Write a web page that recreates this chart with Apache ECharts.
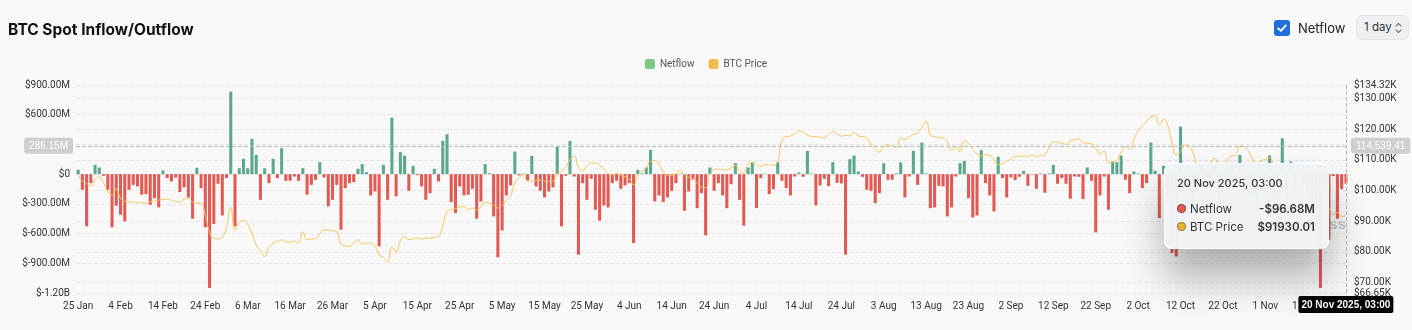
<!DOCTYPE html>
<html><head><meta charset="utf-8">
<script src="https://cdn.jsdelivr.net/npm/echarts@6/dist/echarts.min.js"></script>
<style>
html,body{margin:0;padding:0;background:#f9f9f9;}
#wrap{position:relative;width:1412px;height:330px;overflow:hidden;background:#f9f9f9;font-family:Inter,"Noto Sans",sans-serif;}
#chart{position:absolute;left:0;top:0;width:1412px;height:330px;}
#cb{position:absolute;left:1274px;top:20px;width:16px;height:16px;border-radius:3px;background:#1f6fd6;}
#cb svg{position:absolute;left:2px;top:2px;}
#cblabel{position:absolute;left:1298px;top:18px;font-size:13px;color:#222;line-height:20px;}
#sel{position:absolute;left:1356px;top:15px;width:53px;height:25px;box-sizing:border-box;border:1px solid #e3e5e8;border-radius:6px;background:#eef0f3;font-size:11.5px;color:#333;line-height:23px;padding-left:7px;}
#sel svg{position:absolute;right:6px;top:6px;}
</style></head><body>
<div id="wrap">
<div id="chart"></div>
<div id="cb"><svg width="12" height="12" viewBox="0 0 12 12"><path d="M2.2 6.3 L4.9 8.9 L9.8 3.4" stroke="#fff" stroke-width="1.8" fill="none" stroke-linecap="round" stroke-linejoin="round"/></svg></div>
<div id="cblabel">Netflow</div>
<div id="sel">1 day<svg width="7" height="12" viewBox="0 0 7 12"><path d="M1 4 L3.5 1.5 L6 4 M1 8 L3.5 10.5 L6 8" stroke="#777" stroke-width="1.1" fill="none" stroke-linecap="round" stroke-linejoin="round"/></svg></div>
</div>
<script>
// ---- data ----
const startDate = '2025-01-25';
const pointerTime = '03:00';
const netflowM = [
44,-158,-527,-90,94,67,-17,-158,-537,-319,
-410,-477,-158,-108,-124,-208,-202,-309,-242,-336,
37,-40,-74,-34,-181,-134,-235,-450,64,-141,
-537,-1149,-504,-97,-417,-40,833,-527,60,155,
60,356,195,-259,60,-91,155,-40,262,-67,
-67,-24,-67,60,-208,-108,-57,121,-34,-326,
-259,-108,-561,-141,-91,-81,54,101,20,-215,
-175,-729,94,-259,571,-225,222,188,-168,84,
-10,-124,-259,-192,54,-74,336,403,-282,-393,
-124,-215,-208,-148,-450,-276,101,10,-427,-840,
-568,-215,-114,228,-13,5,-67,185,-124,-168,
-235,-175,-134,276,-527,-17,336,-24,-813,-91,
-259,-47,-360,-470,-316,-336,-91,-67,-148,-114,
-91,-696,44,8,67,245,-276,-215,-282,-235,
-168,-91,5,-370,-175,-57,-343,-192,-618,67,
-168,-91,-215,-343,-101,111,-259,-521,67,121,
-343,-40,5,-202,-151,121,-67,-141,-215,-24,
17,-27,235,7,-316,-114,-47,-121,121,-87,
-94,-813,151,188,27,-27,-158,-168,-292,-192,
111,-57,-57,10,118,-235,-24,235,-108,319,
7,-343,-336,-118,-124,-427,-336,-24,111,134,
-242,-437,-417,242,-91,-215,-376,175,-40,-235,
-34,-60,-27,34,-118,-5,-148,7,-188,7,
94,-97,-40,-97,-249,-24,-27,-252,67,-67,
-588,-215,-24,-360,128,121,188,-57,-192,27,
7,-141,-91,319,34,-444,84,-208,-796,-830,
480,-150,60,-300,-200,90,-120,-60,80,-250,
-180,40,115,-90,194,-140,-60,-220,-310,70,
-50,188,-250,-420,362,-380,127,-150,60,-90,
-200,-280,-350,-1149,-150,-660,-20,-450,-150,-96.68
];
const priceK = [
105.1,103.0,102.3,101.6,103.5,104.5,102.5,99.5,98.5,100.5,
97.5,96.4,96.3,96.2,96.1,96.0,95.9,96.3,96.6,96.9,
97.1,97.2,96.8,96.4,96.2,97.2,97.5,96.2,96.0,95.8,
92.0,86.5,84.4,84.3,84.8,88.0,94.5,87.0,89.5,90.3,
89.0,86.0,82.3,80.5,78.5,81.5,82.8,83.5,83.9,83.4,
83.2,83.6,82.9,86.5,84.0,84.2,84.4,86.0,87.2,87.0,
86.9,86.6,82.5,82.0,81.8,82.9,84.0,82.5,82.8,82.9,
82.0,79.0,78.2,76.8,81.5,80.0,83.5,85.0,84.0,84.3,
84.6,84.2,84.5,84.5,84.7,85.0,88.5,93.0,93.8,94.2,
94.6,94.8,93.8,94.3,93.7,94.5,96.2,95.8,95.2,94.3,
95.2,96.8,98.3,102.5,104.2,105.2,103.2,103.1,103.3,103.4,
103.0,102.9,103.1,105.6,106.2,107.5,110.0,111.2,107.5,106.5,
108.0,109.0,109.0,108.3,106.8,105.5,105.1,105.5,105.0,104.5,
103.8,101.8,105.0,106.3,107.2,109.5,109.7,108.5,106.0,105.0,
104.9,105.4,106.7,104.8,104.3,103.8,102.5,101.2,100.9,105.2,
106.8,107.0,106.7,106.8,107.3,108.2,106.2,105.7,108.6,109.0,
108.5,107.8,108.4,108.3,108.1,109.5,116.5,117.5,117.7,118.3,
119.3,119.0,118.0,117.6,117.5,117.4,117.1,118.3,119.2,118.4,
117.7,117.9,117.8,118.8,117.8,117.5,117.2,115.0,113.5,112.5,
114.3,114.8,114.5,114.0,117.0,116.6,117.3,118.3,118.7,120.5,
122.6,118.0,117.5,117.3,117.1,116.0,113.0,114.3,112.5,116.2,
115.2,113.3,112.0,111.3,111.6,111.4,110.0,108.4,108.8,109.5,
110.2,111.0,111.1,111.2,111.0,111.5,111.0,111.3,111.6,114.0,
115.9,115.6,115.4,115.0,116.1,116.5,116.8,115.6,115.4,115.2,
113.7,112.0,112.8,109.0,109.3,109.8,112.5,114.3,113.5,116.5,
119.5,121.0,122.4,124.0,124.3,121.3,123.2,121.0,115.5,111.6,
112.5,114.8,114.5,112.0,108.2,106.5,107.2,108.6,110.5,108.4,
107.6,110.0,111.2,111.6,114.5,114.1,112.9,110.0,108.3,109.6,
110.1,110.6,106.5,101.5,103.9,101.3,103.4,102.3,104.7,106.0,
103.0,101.6,99.7,94.5,95.6,94.2,92.2,92.9,91.5,91.93001
];
const leftTicks = {min: -1200, max: 900, interval: 300};
const rightTickValues = [66650, 70000, 80000, 90000, 100000, 110000, 120000, 130000, 134320];
const pointerValueM = 286.15;

// ---- build ----
const MONTHS = ['Jan','Feb','Mar','Apr','May','Jun','Jul','Aug','Sep','Oct','Nov','Dec'];
const dates = [];
{ const d0 = new Date(startDate + 'T00:00:00Z');
  for (let i = 0; i < netflowM.length; i++) { const d = new Date(d0.getTime() + i*86400000); dates.push(d.toISOString().slice(0,10)); } }
function shortDate(s){ const [y,m,d] = s.split('-'); return (+d) + ' ' + MONTHS[+m-1]; }
function longDate(s){ const [y,m,d] = s.split('-'); return (+d) + ' ' + MONTHS[+m-1] + ' ' + y + ', ' + pointerTime; }
const priceUSD = priceK.map(v => +(v*1000).toFixed(2));

const GREEN = '#5ba88c', RED = '#e25a53', LINE = '#f7c560';
const axisFont = 'Roboto, "DejaVu Sans", sans-serif';

const chart = echarts.init(document.getElementById('chart'), null, {renderer:'canvas'});
chart.setOption({
  animation: false,
  backgroundColor: '#f9f9f9',
  title: {text: 'BTC Spot Inflow/Outflow', left: 3, top: 17, textStyle: {fontSize: 15.5, fontWeight: 'bold', color: '#111', fontFamily: 'Inter, "Noto Sans", sans-serif'}},
  legend: {top: 54, left: 'center', itemWidth: 10, itemHeight: 10, itemGap: 14, icon: 'roundRect',
    textStyle: {fontSize: 10, color: '#555', fontFamily: axisFont},
    data: [{name: 'Netflow', itemStyle: {color: '#7bc88a'}}, {name: 'BTC Price', itemStyle: {color: '#f0bd55'}}]},
  grid: {left: 76, right: 64, top: 85, bottom: 37, containLabel: false},
  tooltip: {
    trigger: 'axis', alwaysShowContent: true, transitionDuration: 0,
    backgroundColor: 'rgba(240,243,246,0.97)', borderColor: '#ffffff', borderWidth: 1, padding: [12, 13, 12, 12],
    extraCssText: 'border-radius:8px;box-shadow:0 28px 40px rgba(0,0,0,0.3);',
    position: function(pt, params, dom, rect, size){ return [pt[0] - size.contentSize[0] - 17, pt[1] + 17]; },
    axisPointer: {type: 'cross', lineStyle: {color: '#bbb', type: 'dashed', width: 1}, crossStyle: {color: '#bbb', type: 'dashed', width: 1}},
    formatter: function(params){
      const idx = params[0].dataIndex;
      const nf = netflowM[idx], pr = priceUSD[idx];
      const dot = c => '<span style="display:inline-block;width:7px;height:7px;border-radius:50%;background:'+c+';border:1px solid rgba(0,0,0,0.35);margin-right:4px;vertical-align:0px"></span>';
      const nfTxt = (nf < 0 ? '-$' : '$') + Math.abs(nf).toFixed(2) + 'M';
      return '<div style="font-family:Inter,sans-serif;color:#333;font-size:11.5px;">' +
        '<div style="margin-bottom:9px;font-weight:500;font-size:11px;line-height:15px">' + longDate(dates[idx]) + '</div>' +
        '<div style="display:flex;justify-content:space-between;line-height:18px;"><span>' + dot(RED) + 'Netflow</span><b style="margin-left:14px;font-weight:600">' + nfTxt + '</b></div>' +
        '<div style="display:flex;justify-content:space-between;line-height:18px;"><span>' + dot('#e8b33c') + 'BTC Price</span><b style="margin-left:14px;font-weight:600">$' + pr.toFixed(2) + '</b></div>' +
        '</div>';
    }
  },
  xAxis: {
    type: 'category', data: dates, boundaryGap: true,
    axisLine: {show: false}, axisTick: {show: false},
    axisLabel: {interval: 9, color: '#333', fontSize: 10, fontFamily: axisFont, margin: 8, formatter: shortDate},
    axisPointer: {label: {backgroundColor: '#000', color: '#fff', fontSize: 10, fontWeight: 'bold', padding: [4,3,3,3], borderRadius: 2, formatter: p => longDate(p.value)}}
  },
  yAxis: [
    {type: 'value', min: leftTicks.min, max: leftTicks.max, interval: leftTicks.interval,
      axisLine: {show: false}, axisTick: {show: false},
      splitLine: {lineStyle: {color: '#e6e6e6', type: 'dashed'}},
      axisLabel: {color: '#333', fontSize: 10, fontFamily: axisFont, margin: 6,
        formatter: v => v === 0 ? '$0' : (Math.abs(v) >= 1000 ? '$' + (v/1000).toFixed(2) + 'B' : '$' + v.toFixed(2) + 'M')},
      axisPointer: {label: {backgroundColor: '#cfcfcf', color: '#fff', fontSize: 10, padding: [3,5,3,5], borderRadius: 3, formatter: p => (+p.value).toFixed(2) + 'M'}}
    },
    {type: 'value', min: rightTickValues[0], max: rightTickValues[rightTickValues.length-1],
      axisLine: {show: false}, axisTick: {show: false, customValues: rightTickValues},
      splitLine: {lineStyle: {color: '#e6e6e6', type: 'dashed'}},
      axisLabel: {color: '#333', fontSize: 10, fontFamily: axisFont, margin: 6, customValues: rightTickValues,
        formatter: v => '$' + (v/1000).toFixed(2) + 'K'},
      axisPointer: {label: {backgroundColor: '#cfcfcf', color: '#fff', fontSize: 10, padding: [3,5,3,5], borderRadius: 3,
        formatter: p => (+p.value).toLocaleString('en-US', {minimumFractionDigits: 2, maximumFractionDigits: 2})}}
    }
  ],
  graphic: [{type: 'text', right: 66, top: 217, z: 0, style: {text: 'coinglass', fill: 'rgba(0,0,0,0.22)', font: 'bold 15px sans-serif'}}],
  series: [
    {name: 'Netflow', type: 'bar', yAxisIndex: 0, data: netflowM, barCategoryGap: '28%',
      itemStyle: {color: p => p.value >= 0 ? GREEN : RED}},
    {name: 'BTC Price', type: 'line', yAxisIndex: 1, data: priceUSD, smooth: true, symbol: 'none', showSymbol: false,
      emphasis: {disabled: true},
      lineStyle: {color: LINE, width: 1}, itemStyle: {color: LINE}}
  ]
});
const px = chart.convertToPixel({xAxisIndex: 0}, dates[dates.length-1]);
const py = chart.convertToPixel({yAxisIndex: 0}, pointerValueM);
chart.dispatchAction({type: 'showTip', x: px, y: py});
</script>
</body></html>
